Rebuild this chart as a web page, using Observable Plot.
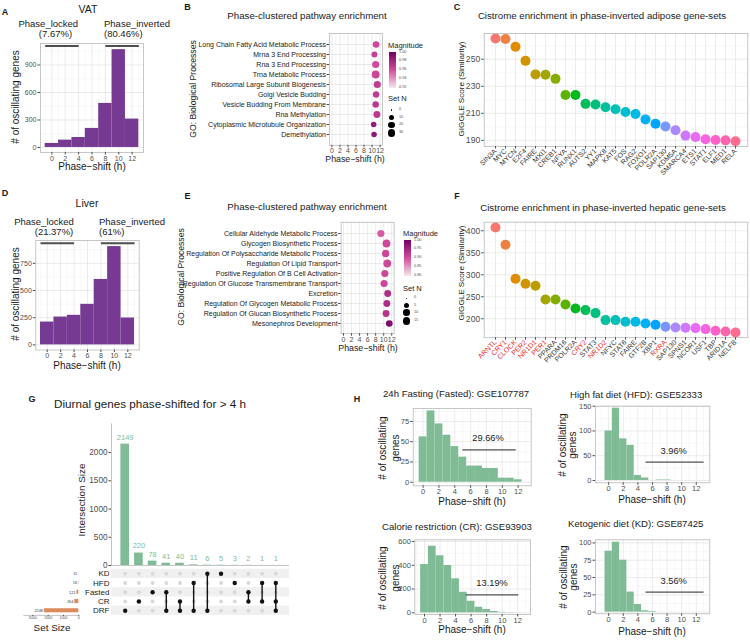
<!DOCTYPE html>
<html><head><meta charset="utf-8">
<script src="https://cdn.jsdelivr.net/npm/d3@7"></script>
<script src="https://cdn.jsdelivr.net/npm/@observablehq/plot@0.6"></script>
<style>
html,body{margin:0;padding:0;background:#fff;}
#root{position:relative;width:750px;height:640px;overflow:hidden;background:#fff;}
#root svg{overflow:visible;}
</style></head><body><div id="root"></div>
<script>
// ---------------- DATA ----------------
const phaseBins = [0, 2, 4, 6, 8, 10, 12];
const vatCounts = [44, 80, 109, 208, 481, 1068, 310];
const liverCounts = [210, 256, 272, 373, 602, 904, 247];
const phaseTicks = [0, 2, 4, 6, 8, 10, 12];

const bTerms = ["Long Chain Fatty Acid Metabolic Process","Mrna 3 End Processing","Rna 3 End Processing","Trna Metabolic Process","Ribosomal Large Subunit Biogenesis","Golgi Vesicle Budding","Vesicle Budding From Membrane","Rna Methylation","Cytoplasmic Microtubule Organization","Demethylation"];
const bPhase = [11.0, 10.6, 10.9, 10.9, 11.3, 11.0, 10.9, 11.2, 10.4, 10.5];
const bMagnitude = [0.962, 0.966, 0.961, 0.963, 0.968, 0.968, 0.970, 0.970, 0.986, 0.988];
const bSetN = [20, 15, 24, 30, 24, 18, 18, 22, 12, 12];

const eTerms = ["Cellular Aldehyde Metabolic Process","Glycogen Biosynthetic Process","Regulation Of Polysaccharide Metabolic Process","Regulation Of Lipid Transport","Positive Regulation Of B Cell Activation","Regulation Of Glucose Transmembrane Transport","Excretion","Regulation Of Glycogen Metabolic Process","Regulation Of Glucan Biosynthetic Process","Mesonephros Development"];
const ePhase = [9.3, 10.7, 10.5, 10.9, 10.3, 10.1, 11.0, 10.8, 10.6, 11.4];
const eMagnitude = [0.89, 0.905, 0.905, 0.905, 0.905, 0.905, 0.94, 0.94, 0.93, 0.985];
const eSetN = [12, 15, 13, 15, 12, 12, 11, 11, 11, 10];

const cGenes = ["SIN3A","MYC","MYCN","E2F4","FAIRE","MXI1","CREB1","NFYA","RUNX1","AUTS2","YY1","MAPK8","KAT5","FOS","RAG2","FOXO1","POLR2A","SAP130","KDM5A","SMARCA4","ETS1","STAT1","ELF1","MED1","RELA"];
const cScores = [265.3, 265.0, 259.3, 248.8, 238.8, 238.5, 235.5, 223.5, 223.5, 217.0, 216.5, 214.5, 213.0, 211.0, 209.5, 205.5, 202.3, 200.3, 197.5, 193.5, 192.5, 190.8, 190.3, 190.0, 189.3];

const fGenes = ["ARNTL","CRY1","CLOCK","PER2","NR1D1","PER1","PPARA","PRDM16","POLR2A","CRY2","STAT3","NR1D2","NFYC","STAT6","FAIRE","GTF2B","XBP1","RXRA","SAP130","SPNS1","NCOR1","USF1","TBP","ARID1A","NELFB"];
const fScores = [407.6, 368.2, 290.9, 279.5, 275.0, 243.9, 243.9, 232.6, 223.5, 219.7, 212.9, 197.0, 197.0, 193.2, 193.2, 189.4, 186.4, 181.8, 180.3, 179.5, 178.8, 176.5, 172.7, 171.2, 168.9];
const fClockGenes = ["ARNTL","CRY1","CLOCK","PER2","NR1D1","PER1","CRY2","NR1D2","RXRA"];

const gSets = ["KD", "HFD", "Fasted", "CR", "DRF"];
const gSetSizes = [11, 16, 121, 264, 2248];
const gCombos = [["DRF"],["CR"],["Fasted"],["Fasted","DRF"],["CR","DRF"],["HFD","DRF"],["KD","DRF"],["KD"],["HFD"],["Fasted","CR"],["HFD","CR"],["HFD","CR","DRF"]];
const gCounts = [2149, 220, 78, 41, 40, 11, 6, 5, 3, 2, 1, 1];

const hBins = [0,1,2,3,4,5,6,7,8,9,10,11,12];
const hFastedCounts = [56, 88, 72, 58, 44, 31, 20, 20, 17, 17, 5, 5, 3];
const hHfdCounts = [100, 146, 84, 71, 10, 5, 0, 1, 1, 0, 0, 0, 0];
const hCrCounts = [406, 560, 480, 398, 286, 173, 97, 47, 28, 11, 4, 2, 1];
const hKdCounts = [88, 101, 75, 29, 11, 2, 1, 0, 0, 0, 0, 0, 0];
const hTitles = ["24h Fasting (Fasted): GSE107787","High fat diet (HFD): GSE52333","Calorie restriction (CR): GSE93903","Ketogenic diet (KD): GSE87425"];
const hPercents = ["29.66%","3.96%","13.19%","3.56%"];

// ---------------- HELPERS ----------------
const FONT = "'Liberation Sans', Arial, Helvetica, sans-serif";
const PURPLE = "#773a92", GREEN = "#7fbc95", ORANGE = "#dc8a5e";
const plain = d => String(d);
const root = document.getElementById("root");
function txt(s, x, y, o = {}) {
  const d = document.createElement("div");
  d.textContent = s;
  const anchor = o.anchor || "middle";
  const tx = anchor === "middle" ? "-50%" : anchor === "end" ? "-100%" : "0%";
  d.style.cssText = `position:absolute;left:${x}px;top:${y}px;white-space:nowrap;line-height:1;font-family:${FONT};font-size:${o.size || 10}px;font-weight:${o.weight || "normal"};color:${o.color || "#1a1a1a"};transform:translate(${tx},-50%) rotate(${o.rotate || 0}deg);`;
  root.appendChild(d);
  return d;
}
function framed(frame, box, opts) {
  const p = Plot.plot({
    ...opts,
    width: box.w, height: box.h,
    marginLeft: frame.x0 - box.x, marginRight: box.x + box.w - frame.x1,
    marginTop: frame.y0 - box.y, marginBottom: box.y + box.h - frame.y1,
    style: {fontFamily: FONT, background: "transparent", overflow: "visible", color: "#4d4d4d"}
  });
  p.style.position = "absolute"; p.style.left = box.x + "px"; p.style.top = box.y + "px";
  p.style.maxWidth = "none";
  root.appendChild(p);
  return p;
}
function minorOf(ticks, lo, hi) {
  const s = ticks[1] - ticks[0], out = [];
  for (let v = ticks[0] - s / 2; v <= hi; v += s) if (v >= lo) out.push(v);
  for (let v = ticks[0] - s / 2 - s; v >= lo; v -= s) out.push(v);
  return out;
}
function grid(xMaj, xMin, yMaj, yMin) {
  const m = [];
  if (xMin) m.push(Plot.gridX(xMin, {stroke: "#f1f1f1", strokeOpacity: 1, strokeWidth: 0.5}));
  if (yMin) m.push(Plot.gridY(yMin, {stroke: "#f1f1f1", strokeOpacity: 1, strokeWidth: 0.5}));
  if (xMaj) m.push(Plot.gridX(xMaj, {stroke: "#e2e2e2", strokeOpacity: 1, strokeWidth: 0.7}));
  if (yMaj) m.push(Plot.gridY(yMaj, {stroke: "#e2e2e2", strokeOpacity: 1, strokeWidth: 0.7}));
  return m;
}
const frameMark = () => Plot.frame({stroke: "#b8b8b8", strokeWidth: 0.8});
const axX = (t, o = {}) => Plot.axisX(t, {label: null, tickSize: 2.5, tickPadding: 1, fontSize: 7.5, tickFormat: plain, ...o});
const axY = (t, o = {}) => Plot.axisY(t, {label: null, tickSize: 2.5, tickPadding: 1.5, fontSize: 7.5, tickFormat: plain, ...o});

function hclLuv(h, c, l) {
  const Xn = 95.047, Yn = 100, Zn = 108.883;
  const un = 4 * Xn / (Xn + 15 * Yn + 3 * Zn), vn = 9 * Yn / (Xn + 15 * Yn + 3 * Zn);
  const hr = h * Math.PI / 180, U = c * Math.cos(hr), V = c * Math.sin(hr);
  const Y = l > 8 ? Yn * Math.pow((l + 16) / 116, 3) : Yn * l / 903.3;
  const u = U / (13 * l) + un, v = V / (13 * l) + vn;
  const X = Y * 9 * u / (4 * v), Z = Y * (12 - 3 * u - 20 * v) / (4 * v);
  const x = X / 100, y = Y / 100, z = Z / 100;
  const lin = [3.240479 * x - 1.53715 * y - 0.498535 * z, -0.969256 * x + 1.875992 * y + 0.041556 * z, 0.055648 * x - 0.204043 * y + 1.057311 * z];
  const g = t => { t = t <= 0.0031308 ? 12.92 * t : 1.055 * Math.pow(t, 1 / 2.4) - 0.055; return Math.round(255 * Math.max(0, Math.min(1, t))); };
  return d3.rgb(...lin.map(g)).formatHex();
}
const huePal = n => d3.range(n).map(i => hclLuv(15 + 360 * i / n, 100, 65));

// ---------------- A & D: phase-shift histograms ----------------
function phaseHist(counts, frame, box, yDom, yTicks, lineY) {
  const data = phaseBins.map((c, i) => ({c, n: counts[i]}));
  framed(frame, box, {
    x: {domain: [-1.7, 13.7]}, y: {domain: yDom},
    marks: [
      ...grid(phaseTicks, minorOf(phaseTicks, -1.7, 13.7), yTicks, minorOf(yTicks, yDom[0], yDom[1])),
      Plot.rect(data, {x1: d => d.c - 1, x2: d => d.c + 1, y1: () => 0, y2: "n", fill: PURPLE}),
      Plot.link([{a: -1, b: 4}, {a: 8, b: 13}], {x1: "a", x2: "b", y1: () => lineY, y2: () => lineY, stroke: "#4f4f4f", strokeWidth: 2}),
      frameMark(),
      axX(phaseTicks, {fontSize: 7}), axY(yTicks, {fontSize: 7})
    ]
  });
}
phaseHist(vatCounts, {x0: 40, x1: 143, y0: 43, y1: 152}, {x: 0, y: 0, w: 150, h: 175}, [-55, 1135], [0, 300, 600, 900], 1108);
phaseHist(liverCounts, {x0: 35.3, x1: 138.7, y0: 240, y1: 349.5}, {x: 0, y: 180, w: 150, h: 195}, [-47, 960], [0, 250, 500, 750], 935);

txt("A", 5, 12, {size: 9, weight: "bold"});
txt("VAT", 88, 9, {size: 10.5});
txt("Phase_locked", 48.3, 24, {size: 9.5});
txt("(7.67%)", 55.5, 33.5, {size: 9.5});
txt("Phase_inverted", 104, 24, {size: 9.5, anchor: "start"});
txt("(80.46%)", 104, 33.5, {size: 9.5, anchor: "start"});
txt("# of oscillating genes", 16, 97, {size: 10, rotate: -90});
txt("Phase\u2212shift (h)", 92, 167, {size: 10});

txt("D", 5, 193, {size: 9, weight: "bold"});
txt("Liver", 87, 203, {size: 10.5});
txt("Phase_locked", 44, 221.7, {size: 9.5});
txt("(21.37%)", 54, 231.7, {size: 9.5});
txt("Phase_inverted", 99, 221.7, {size: 9.5, anchor: "start"});
txt("(61%)", 99, 231.7, {size: 9.5, anchor: "start"});
txt("# of oscillating genes", 16, 294, {size: 10, rotate: -90});
txt("Phase\u2212shift (h)", 87, 366, {size: 10});

// ---------------- B & E: pathway enrichment dot plots ----------------
const magRange = ["#f6e8ea", "#d24c9c", "#720066"];
function pathwayPlot(terms, phase, mag, setN, frame, box, magDom, nMax) {
  const data = terms.map((t, i) => ({t, p: phase[i], m: mag[i], n: setN[i]}));
  framed(frame, box, {
    x: {domain: [-0.6, 12.6]},
    y: {type: "point", domain: terms, padding: 0.6},
    r: {type: "sqrt", domain: [0, nMax], range: [0.8, 3.9]},
    color: {type: "linear", domain: magDom, range: magRange},
    marks: [
      ...grid(phaseTicks, minorOf(phaseTicks, -0.6, 12.6), null, null),
      Plot.gridY(terms, {stroke: "#e2e2e2", strokeOpacity: 1, strokeWidth: 0.7}),
      Plot.dot(data, {x: "p", y: "t", r: "n", fill: "m"}),
      frameMark(),
      axX(phaseTicks, {fontSize: 7, tickPadding: 0.5}),
      Plot.axisY(terms, {label: null, tickSize: 2.5, tickPadding: 1, fontSize: 7, fill: "#1a1a1a"})
    ]
  });
}
pathwayPlot(bTerms, bPhase, bMagnitude, bSetN, {x0: 329, x1: 382, y0: 33, y1: 144.8}, {x: 150, y: 0, w: 240, h: 165}, [0.92, 0.96, 1.0], 30);
pathwayPlot(eTerms, ePhase, eMagnitude, eSetN, {x0: 340.6, x1: 393.6, y0: 221.8, y1: 333.2}, {x: 150, y: 180, w: 250, h: 175}, [0.80, 0.90, 1.0], 15);

function legend(x, yTitle, barTop, labels, sizeTitleY, sizeLabels, sizeYs, nMax) {
  txt("Magnitude", x, yTitle, {size: 7.5, anchor: "start"});
  const bar = document.createElement("div");
  bar.style.cssText = `position:absolute;left:${x + 0.5}px;top:${barTop}px;width:7px;height:36px;background:linear-gradient(to top, ${magRange.join(",")});`;
  root.appendChild(bar);
  labels.forEach((l, i) => txt(l, x + 11, barTop + 0.5 + i * 8.8, {size: 3.8, anchor: "start", color: "#4d4d4d"}));
  txt("Set N", x, sizeTitleY, {size: 7.5, anchor: "start"});
  const rs = d3.scaleSqrt().domain([0, nMax]).range([0.8, 3.9]);
  sizeLabels.forEach((l, i) => {
    const r = rs(+l);
    const c = document.createElement("div");
    c.style.cssText = `position:absolute;left:${x + 3.5 - r}px;top:${sizeYs[i] - r}px;width:${2 * r}px;height:${2 * r}px;border-radius:50%;background:#000;`;
    root.appendChild(c);
    txt(l, x + 11, sizeYs[i], {size: 3.8, anchor: "start", color: "#4d4d4d"});
  });
}
legend(388, 46, 52, ["1.00", "0.98", "0.96", "0.94", "0.92"], 99, ["0", "10", "20", "30"], [110, 117.7, 125, 132.7], 30);
legend(403, 234, 240, ["1.00", "0.95", "0.90", "0.85", "0.80"], 289, ["0", "5", "10", "15"], [298.3, 305.7, 312.7, 320.7], 15);

txt("B", 187.5, 7, {size: 9, weight: "bold"});
txt("Phase-clustered pathway enrichment", 307, 16, {size: 9.7});
txt("GO: Biological Processes", 193, 89, {size: 8.6, rotate: -90});
txt("Phase\u2212shift (h)", 355, 159, {size: 8.8});
txt("E", 187.5, 196, {size: 9, weight: "bold"});
txt("Phase-clustered pathway enrichment", 307, 207, {size: 9.7});
txt("GO: Biological Processes", 181, 277, {size: 8.6, rotate: -90});
txt("Phase\u2212shift (h)", 368, 347.5, {size: 8.8});

// ---------------- C & F: cistrome enrichment ----------------
function cistromePlot(genes, scores, frame, box, yDom, yTicks, redGenes) {
  const pal = huePal(genes.length);
  const data = genes.map((g, i) => ({g, s: scores[i], c: pal[i]}));
  const marks = [
    ...grid(null, null, yTicks, minorOf(yTicks, yDom[0], yDom[1])),
    Plot.gridX(genes, {stroke: "#e2e2e2", strokeOpacity: 1, strokeWidth: 0.7}),
    Plot.dot(data, {x: "g", y: "s", r: 5, fill: "c"}),
    frameMark(),
    axY(yTicks, {fontSize: 8.6})
  ];
  if (redGenes) {
    marks.push(Plot.axisX(genes.filter(g => redGenes.includes(g)), {label: null, tickSize: 2.5, tickPadding: 1, tickRotate: -45, fontSize: 7, fill: "#e8262b"}));
    marks.push(Plot.axisX(genes.filter(g => !redGenes.includes(g)), {label: null, tickSize: 2.5, tickPadding: 1, tickRotate: -45, fontSize: 7, fill: "#333333"}));
  } else {
    marks.push(Plot.axisX(genes, {label: null, tickSize: 2.5, tickPadding: 1, tickRotate: -45, fontSize: 7, fill: "#333333"}));
  }
  framed(frame, box, {x: {type: "point", domain: genes, padding: 0.6}, y: {domain: yDom}, marks});
}
cistromePlot(cGenes, cScores, {x0: 483.7, x1: 747.3, y0: 33, y1: 146}, {x: 390, y: 0, w: 360, h: 190}, [185.45, 269.05], [190, 210, 230, 250], null);
cistromePlot(fGenes, fScores, {x0: 483.7, x1: 747.3, y0: 221.7, y1: 337.2}, {x: 390, y: 180, w: 360, h: 200}, [157, 419.5], [200, 250, 300, 350, 400], fClockGenes);

txt("C", 457, 7, {size: 9, weight: "bold"});
txt("Cistrome enrichment in phase-inverted adipose gene-sets", 602, 16, {size: 9.7});
txt("GIGGLE Score (Similarity)", 462, 89, {size: 8.1, rotate: -90});
txt("F", 457, 196, {size: 9, weight: "bold"});
txt("Cistrome enrichment in phase-inverted hepatic gene-sets", 603, 208, {size: 9.7});
txt("GIGGLE Score (Similarity)", 462, 273, {size: 8.1, rotate: -90});

// ---------------- G: UpSet ----------------
const gBarData = gCounts.map((n, i) => ({i, n}));
framed({x0: 111, x1: 289, y0: 423.4, y1: 565}, {x: 0, y: 390, w: 300, h: 180}, {
  x: {domain: [-1, 12], axis: null}, y: {domain: [0, 2507]},
  marks: [
    Plot.rect(gBarData, {x1: d => d.i - 0.315, x2: d => d.i + 0.315, y1: () => 0, y2: "n", fill: GREEN}),
    Plot.text(gBarData, {x: "i", y: "n", text: d => String(d.n), dy: -7, fill: GREEN, fontSize: 7.5}),
    Plot.ruleX([-1], {stroke: "#b5b5b5", strokeWidth: 0.8}),
    Plot.ruleY([0], {stroke: "#b5b5b5", strokeWidth: 0.8}),
    axY([0, 500, 1000, 1500, 2000], {fontSize: 8.2, tickSize: 2.5})
  ]
});
const gRows = gSets.map((s, r) => ({s, r}));
const gCells = [];
gCombos.forEach((combo, i) => gSets.forEach((s, r) => gCells.push({i, r, on: combo.includes(s)})));
const gLinks = gCombos.map((combo, i) => {
  const idx = combo.map(s => gSets.indexOf(s));
  return {i, a: d3.min(idx), b: d3.max(idx), k: combo.length};
}).filter(d => d.k > 1);
framed({x0: 111, x1: 289, y0: 568.7, y1: 614.9}, {x: 0, y: 560, w: 300, h: 60}, {
  x: {domain: [-1, 12], axis: null}, y: {domain: [4.5, -0.5], axis: null},
  marks: [
    Plot.rect(gRows.filter(d => d.r % 2 === 0), {x1: () => -1, x2: () => 12, y1: d => d.r - 0.5, y2: d => d.r + 0.5, fill: "#f0f0f0"}),
    Plot.dot(gCells.filter(d => !d.on), {x: "i", y: "r", r: 2, fill: "#d9d9d9"}),
    Plot.link(gLinks, {x1: "i", x2: "i", y1: "a", y2: "b", stroke: "#111", strokeWidth: 1.4}),
    Plot.dot(gCells.filter(d => d.on), {x: "i", y: "r", r: 2.2, fill: "#111"}),
    Plot.text(gRows, {x: () => -1, y: "r", text: "s", dx: -2, textAnchor: "end", fontSize: 8, fill: "#1a1a1a"})
  ]
});
const gSizeData = gSets.map((s, r) => ({s, r, n: gSetSizes[r]}));
framed({x0: 23.3, x1: 78.3, y0: 568.7, y1: 614.9}, {x: 0, y: 560, w: 100, h: 70}, {
  x: {domain: [3590, 0]}, y: {domain: [4.5, -0.5], axis: null},
  marks: [
    Plot.rect(gSizeData, {x1: () => 0, x2: "n", y1: d => d.r - 0.22, y2: d => d.r + 0.22, fill: ORANGE}),
    Plot.text(gSizeData, {x: "n", y: "r", text: d => String(d.n), dx: -1.5, textAnchor: "end", fontSize: 3.8, fill: "#333"}),
    Plot.ruleY([4.5], {stroke: "#999", strokeWidth: 0.6}),
    axX([3000, 2000, 1000, 0], {fontSize: 3.6, tickSize: 1.2, tickPadding: 0.3})
  ]
});
txt("G", 32, 399, {size: 9, weight: "bold"});
txt("Diurnal genes phase-shifted for > 4 h", 54, 404, {size: 11.7, anchor: "start"});
txt("Intersection Size", 82, 500, {size: 9.9, rotate: -90});
txt("Set Size", 52, 628, {size: 9.9});

// ---------------- H: diet histograms ----------------
function dietHist(counts, frame, box, xDom, yDom, yTicks, ann, pct) {
  const data = hBins.map((b, i) => ({b, n: counts[i]}));
  framed(frame, box, {
    x: {domain: xDom}, y: {domain: yDom},
    marks: [
      ...grid(phaseTicks, minorOf(phaseTicks, xDom[0], xDom[1]), yTicks, minorOf(yTicks, yDom[0], yDom[1])),
      Plot.rect(data, {x1: d => d.b - 0.5, x2: d => d.b + 0.5, y1: () => 0, y2: "n", fill: GREEN}),
      Plot.link([ann], {x1: "x1", x2: "x2", y1: "y", y2: "y", stroke: "#4f4f4f", strokeWidth: 1.3}),
      Plot.text([ann], {x: "tx", y: "ty", text: () => pct, fill: "#1a1a1a", fontSize: 9.3}),
      frameMark(),
      axX(phaseTicks, {fontSize: 7.5, tickPadding: 0.5}), axY(yTicks, {fontSize: 7.5})
    ]
  });
}
dietHist(hFastedCounts, {x0: 412.7, x1: 530.7, y0: 408, y1: 485.3}, {x: 395, y: 400, w: 140, h: 100}, [-1.25, 13.65], [-4.4, 91], [0, 25, 50, 75], {x1: 4.95, x2: 11.7, y: 40, tx: 8.2, ty: 54}, hPercents[0]);
dietHist(hHfdCounts, {x0: 595, x1: 709.3, y0: 405.7, y1: 482.3}, {x: 575, y: 398, w: 140, h: 100}, [-1.8, 13.85], [-4.7, 150], [0, 50, 100, 150], {x1: 5.05, x2: 13, y: 37, tx: 8.9, ty: 58.6}, hPercents[1]);
dietHist(hCrCounts, {x0: 414.3, x1: 530, y0: 539.3, y1: 614}, {x: 395, y: 530, w: 140, h: 100}, [-1.25, 13.65], [-14, 614], [0, 200, 400, 600], {x1: 5.3, x2: 12.1, y: 151, tx: 8.7, ty: 249}, hPercents[2]);
dietHist(hKdCounts, {x0: 595, x1: 709.3, y0: 539.3, y1: 613.3}, {x: 575, y: 530, w: 140, h: 100}, [-1.8, 13.85], [-2.4, 104.5], [0, 25, 50, 75, 100], {x1: 5.05, x2: 13, y: 28.8, tx: 8.9, ty: 44.7}, hPercents[3]);

txt("H", 357, 399, {size: 9, weight: "bold"});
txt(hTitles[0], 383, 393.5, {size: 9.6, anchor: "start"});
txt(hTitles[1], 570, 395, {size: 9.6, anchor: "start"});
txt(hTitles[2], 382, 527, {size: 9.6, anchor: "start"});
txt(hTitles[3], 568, 523.5, {size: 9.6, anchor: "start"});
[[383.3, 395.7, 448], [563.3, 573.3, 445], [383.3, 395.7, 578], [564, 574, 577]].forEach(([a, b, y]) => {
  txt("# of oscillating", a, y, {size: 10, rotate: -90});
  txt("genes", b, y, {size: 10, rotate: -90});
});
[[472, 502], [652, 499.5], [472, 629.5], [652, 632]].forEach(([x, y]) => txt("Phase\u2212shift (h)", x, y, {size: 10}));
</script>
</body></html>
